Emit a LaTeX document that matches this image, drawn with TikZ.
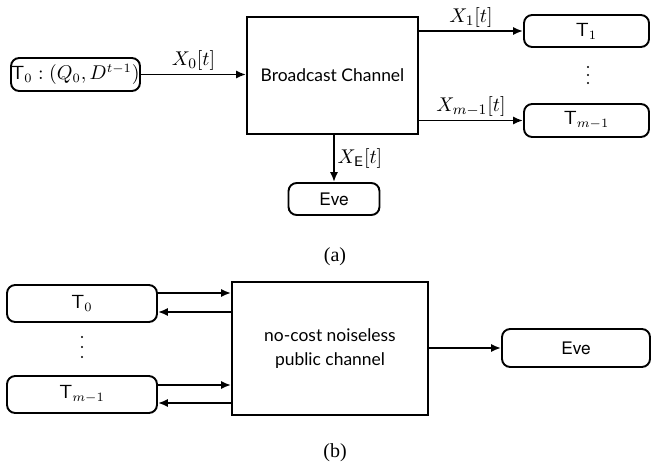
\documentclass[tikz,border=0pt]{standalone}
\usepackage{fontspec}
\setmainfont{Liberation Serif}
\newfontfamily\gillfont{Lato}
\newfontfamily\helvfont{TeX Gyre Heros}
\usetikzlibrary{arrows.meta,calc}
\def\u{0.55pt}
\tikzset{
  ln/.style={line width=1.05pt},
  arr/.style={ln,-{Latex[length=5.5pt,width=4.5pt]}},
  term/.style={draw,ln,rounded corners=4.5pt,inner sep=0pt,font=\helvfont\fontsize{10.5}{12}\selectfont},
  chan/.style={draw,ln,inner sep=0pt,align=center,font=\gillfont\fontsize{9.6}{13}\selectfont},
  lbl/.style={inner sep=1.5pt,font=\fontsize{11}{13}\selectfont},
  subcap/.style={inner sep=0pt,font=\fontsize{11}{13}\selectfont},
  dot/.style={circle,fill,inner sep=0pt,minimum size=2.2*\u}
}
\begin{document}
\begin{tikzpicture}[x=\u,y=-\u]
\useasboundingbox (0,0) rectangle (651,468);
% ---------- (a) ----------
\node[term,minimum width=129*\u,minimum height=33*\u] (T0a) at (75.5,74.5) {$\mathsf{T}_0:(Q_0,D^{t-1})$};
\node[chan,minimum width=171*\u,minimum height=117*\u] (BC) at (332.5,75.5) {Broadcast Channel};
\node[term,minimum width=125*\u,minimum height=32*\u] (T1) at (586.5,31) {$\mathsf{T}_1$};
\node[term,minimum width=125*\u,minimum height=33*\u] (Tm1) at (586.5,120.5) {$\mathsf{T}_{m-1}$};
\node[term,font=\helvfont\fontsize{9.5}{11}\selectfont,minimum width=91*\u,minimum height=32*\u] (Evea) at (334,199) {Eve};
\node[dot] (da1) at (588,67) {};
\node[dot] (da2) at (588,75) {};
\node[dot] (da3) at (588,83) {};
\draw[arr] (T0a.east) -- node[lbl,above] {$X_0[t]$} (BC.west |- T0a.east);
\draw[arr] (BC.east |- T1.west) -- node[lbl,above] {$X_1[t]$} (T1.west);
\draw[arr] (BC.east |- Tm1.west) -- node[lbl,above] {$X_{m-1}[t]$} (Tm1.west);
\draw[arr] (BC.south -| Evea.north) -- node[lbl,right] {$X_{\mathsf{E}}[t]$} (Evea.north);
\node[subcap] (capa) at (335,257) {(a)};
% ---------- (b) ----------
\node[term,minimum width=150*\u,minimum height=37*\u] (T0b) at (82,303.5) {$\mathsf{T}_0$};
\node[term,minimum width=150*\u,minimum height=37*\u] (Tm1b) at (82,394.5) {$\mathsf{T}_{m-1}$};
\node[chan,minimum width=196*\u,minimum height=133*\u] (PC) at (330,348.5) {no-cost noiseless\\public channel};
\node[term,font=\helvfont\fontsize{9.5}{11}\selectfont,minimum width=148*\u,minimum height=38*\u] (Eveb) at (576,348) {Eve};
\node[dot] (db1) at (82,337) {};
\node[dot] (db2) at (82,347) {};
\node[dot] (db3) at (82,357) {};
\coordinate (a1) at ($(T0b.east)+(0,-10.5)$);
\coordinate (a2) at ($(T0b.east)+(0,8.5)$);
\coordinate (a3) at ($(Tm1b.east)+(0,-9.5)$);
\coordinate (a4) at ($(Tm1b.east)+(0,8.5)$);
\draw[arr] (a1) -- (PC.west |- a1);
\draw[arr] (PC.west |- a2) -- (a2);
\draw[arr] (a3) -- (PC.west |- a3);
\draw[arr] (PC.west |- a4) -- (a4);
\draw[arr] (PC.east |- Eveb.west) -- (Eveb.west);
\node[subcap] (capb) at (335,453) {(b)};
\end{tikzpicture}
\end{document}
